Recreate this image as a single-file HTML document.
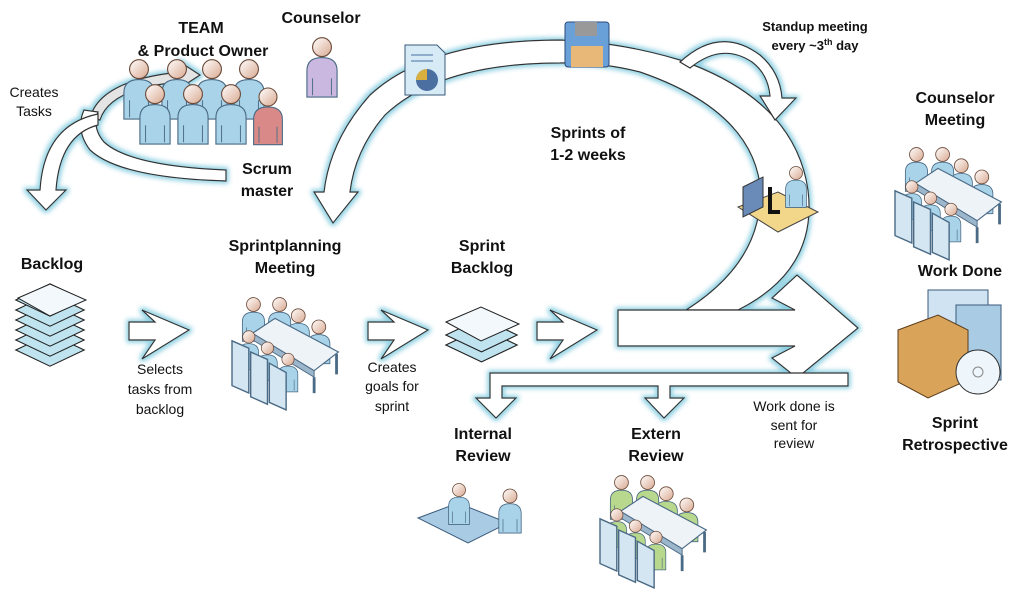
<!DOCTYPE html>
<html><head><meta charset="utf-8"><style>
html,body{margin:0;padding:0;background:#fff;}
svg{display:block;}
text{font-family:"Liberation Sans",sans-serif;fill:#111;}
.b{font-weight:bold;font-size:16px;}
.n{font-size:14px;}
</style></head><body>
<svg width="1019" height="592" viewBox="0 0 1019 592" xmlns="http://www.w3.org/2000/svg">
<defs>
<filter id="glow" x="-20%" y="-20%" width="140%" height="140%">
<feMorphology in="SourceAlpha" operator="dilate" radius="2" result="d"/>
<feGaussianBlur in="d" stdDeviation="2.5" result="b"/>
<feFlood flood-color="#8fd0e2"/>
<feComposite in2="b" operator="in" result="g"/>
<feMerge><feMergeNode in="g"/><feMergeNode in="SourceGraphic"/></feMerge>
</filter>
<linearGradient id="sk" x1="0" y1="0" x2="1" y2="1"><stop offset="0" stop-color="#fff"/><stop offset="1" stop-color="#d9a88f"/></linearGradient>
<symbol id="person" viewBox="0 0 40 70" overflow="visible">
<path d="M4 68 V40 Q4 26 20 26 Q36 26 36 40 V68 Z" fill="currentColor" stroke="#4a6a85" stroke-width="1.2"/>
<path d="M10 48 V66 M30 48 V66" stroke="#4a6a85" stroke-width="1" fill="none"/>
<circle cx="20" cy="15" r="10" fill="url(#sk)" stroke="#6b4a3a" stroke-width="1.2"/>
</symbol>
<symbol id="meet" viewBox="0 0 120 120" overflow="visible">
<use href="#person" x="8" y="-2" width="30" height="52"/>
<use href="#person" x="36" y="-2" width="30" height="52"/>
<use href="#person" x="56" y="10" width="30" height="52"/>
<use href="#person" x="78" y="22" width="30" height="52"/>
<path d="M22 40 L88 80 L114 60 L46 24 Z" fill="#eef3f8" stroke="#4a6a85" stroke-width="1.2"/>
<path d="M22 40 L88 80 L88 87 L22 47Z" fill="#9cb6cc" stroke="#4a6a85"/>
<use href="#person" x="4" y="34" width="28" height="46"/>
<use href="#person" x="24" y="46" width="28" height="46"/>
<use href="#person" x="46" y="58" width="28" height="46"/>
<path d="M0 48 L18 56 V104 L0 96Z M20 60 L38 68 V116 L20 108Z M40 72 L58 82 V122 L40 114Z" fill="#d4e6f2" stroke="#4a6a85" stroke-width="1.5"/>
<path d="M88 87 V104 M112 62 V84" stroke="#4a6a85" stroke-width="3"/>
</symbol>
<symbol id="stack" viewBox="0 0 80 40" overflow="visible">
<path d="M2 20 L40 2 L78 20 L40 38 Z" fill="#bfe3ef" stroke="#222" stroke-width="1.2"/>
</symbol>
</defs>

<g filter="url(#glow)" stroke="#333" stroke-width="1.2" fill="#fff">
<path d="M90 118 Q100 80 180 72 L180 62 L200 75 L180 88 L180 82 Q110 88 100 120 Z" fill="#e4e4e4"/>
<path d="M226 170 L226 181 Q120 178 90 150 Q75 130 84 110 L98 112 Q92 128 104 142 Q130 166 226 170 Z"/>
<path d="M98 114 L98 125 Q60 135 56 190 L66 190 L46 210 L27 190 L40 190 Q44 125 98 114 Z"/>
<path d="M686 310 Q765 260 760 185 Q750 110 640 72 Q600 62 560 63 Q440 63 385 115 Q355 150 350 192 L358 192 L333 223 L314 192 L324 192 Q330 140 370 95 Q430 40 560 40 Q620 42 680 60 Q795 100 808 190 Q818 270 738 310 Z"/>
<path d="M680 62 Q720 25 760 55 Q780 72 782 98 L796 98 L775 120 L760 96 L770 96 Q768 74 752 62 Q722 42 690 68 Z"/>
<path d="M618 310 L795 310 L772 298 L797 275 L858 328 L797 378 L772 358 L795 346 L618 346 Z"/>
<path d="M848 373 L848 386 L670 386 L670 398 L684 398 L664 418 L645 398 L658 398 L658 386 L502 386 L502 398 L516 398 L496 418 L476 398 L490 398 L490 373 Z"/>
<path d="M129 322 L155 322 L142 310 L189 330 L142 359 L155 340 L129 340 Z"/>
<path d="M368 322 L394 322 L381 310 L428 330 L381 359 L394 340 L368 340 Z"/>
<path d="M537 322 L563 322 L550 310 L597 330 L550 359 L563 340 L537 340 Z"/>
</g>

<g color="#a9d3e8">
<use href="#person" x="120" y="55" width="38" height="66"/>
<use href="#person" x="158" y="55" width="38" height="66"/>
<use href="#person" x="193" y="55" width="38" height="66"/>
<use href="#person" x="230" y="55" width="38" height="66"/>
<use href="#person" x="136" y="80" width="38" height="66"/>
<use href="#person" x="174" y="80" width="38" height="66"/>
<use href="#person" x="212" y="80" width="38" height="66"/>
</g>
<use href="#person" x="250" y="82" width="36" height="66" color="#d98a88"/>
<use href="#person" x="303" y="33" width="38" height="66" color="#cbb8e0"/>

<g transform="translate(405,45)"><path d="M0 0 H32 L40 8 V50 H0Z" fill="#d7ebf7" stroke="#3a5a7a"/><circle cx="22" cy="35" r="11" fill="#4a6fa0"/><path d="M22 35 V24 A11 11 0 0 0 11 35Z" fill="#d9b040"/><path d="M6 10 H28 M6 16 H28" stroke="#4a6fa0"/></g>
<g transform="translate(565,22)"><rect width="44" height="45" rx="3" fill="#6aa0d8" stroke="#2a4a7a"/><rect x="10" y="0" width="22" height="14" fill="#999"/><rect x="6" y="24" width="32" height="21" fill="#e8b878"/></g>
<g transform="translate(738,162)"><path d="M0 45 L40 30 L80 50 L40 70Z" fill="#f2d68a" stroke="#444"/><path d="M5 25 L25 15 L25 45 L5 55Z" fill="#6a8ab8" stroke="#333"/><use href="#person" x="45" y="0" width="26" height="48" color="#a9d3e8"/><path d="M32 25 V50 M30 50 H42" stroke="#111" stroke-width="4"/></g>

<g>
<use href="#stack" x="14" y="330" width="72" height="40"/>
<use href="#stack" x="14" y="320" width="72" height="40"/>
<use href="#stack" x="14" y="310" width="72" height="40"/>
<use href="#stack" x="14" y="300" width="72" height="40"/>
<use href="#stack" x="14" y="290" width="72" height="40"/>
<use href="#stack" x="14" y="280" width="72" height="40"/>
<path d="M18 298 L50 284 L86 300 L50 316 Z" fill="#f2f8fc" stroke="#222"/>
<use href="#stack" x="444" y="325" width="75" height="40"/>
<use href="#stack" x="444" y="315" width="75" height="40"/>
<path d="M446 322 L481 307 L519 324 L481 341 Z" fill="#f2f8fc" stroke="#222"/>
</g>

<use href="#meet" x="232" y="292" width="112" height="120" color="#a9d3e8"/>
<use href="#meet" x="895" y="142" width="112" height="120" color="#a9d3e8"/>
<use href="#meet" x="600" y="470" width="112" height="120" color="#b8d88e"/>
<g transform="translate(418,478)"><path d="M0 40 L40 25 L90 45 L50 65Z" fill="#a9cbe4" stroke="#3a5a7a"/><use href="#person" x="28" y="0" width="26" height="50" color="#a9d3e8"/><use href="#person" x="78" y="-8" width="28" height="80" color="#a9d3e8"/></g>
<g transform="translate(898,290)"><rect x="30" y="0" width="60" height="70" fill="#cfe3f3" stroke="#3a5a7a"/><rect x="58" y="15" width="45" height="75" fill="#a9cbe4" stroke="#3a5a7a"/><path d="M0 40 L40 25 L70 40 L70 90 L30 108 L0 92Z" fill="#d9a45a" stroke="#5a3a1a"/><circle cx="80" cy="82" r="22" fill="#eef5fb" stroke="#333"/><circle cx="80" cy="82" r="5" fill="none" stroke="#888"/></g>

<g text-anchor="middle">
<text class="b" x="201" y="33">TEAM</text>
<text class="b" x="203" y="56">&amp; Product Owner</text>
<text class="b" x="321" y="23">Counselor</text>
<text class="n" x="34" y="97">Creates</text>
<text class="n" x="34" y="116">Tasks</text>
<text class="b" x="267" y="174">Scrum</text>
<text class="b" x="267" y="196">master</text>
<text class="b" x="588" y="138">Sprints of</text>
<text class="b" x="588" y="160">1-2 weeks</text>
<text class="b" x="815" y="31" style="font-size:13px">Standup meeting</text>
<text class="b" x="815" y="50" style="font-size:13px">every ~3<tspan dy="-5" font-size="9">th</tspan><tspan dy="5"> day</tspan></text>
<text class="b" x="955" y="103">Counselor</text>
<text class="b" x="955" y="125">Meeting</text>
<text class="b" x="960" y="276">Work Done</text>
<text class="b" x="955" y="428">Sprint</text>
<text class="b" x="955" y="450">Retrospective</text>
<text class="b" x="52" y="269">Backlog</text>
<text class="b" x="285" y="251">Sprintplanning</text>
<text class="b" x="285" y="273">Meeting</text>
<text class="b" x="482" y="251">Sprint</text>
<text class="b" x="482" y="273">Backlog</text>
<text class="n" x="160" y="374">Selects</text>
<text class="n" x="160" y="394">tasks from</text>
<text class="n" x="160" y="414">backlog</text>
<text class="n" x="392" y="372">Creates</text>
<text class="n" x="392" y="391">goals for</text>
<text class="n" x="392" y="411">sprint</text>
<text class="b" x="483" y="439">Internal</text>
<text class="b" x="483" y="461">Review</text>
<text class="b" x="656" y="439">Extern</text>
<text class="b" x="656" y="461">Review</text>
<text class="n" x="794" y="411">Work done is</text>
<text class="n" x="794" y="430">sent for</text>
<text class="n" x="794" y="448">review</text>
</g>
</svg>
</body></html>
